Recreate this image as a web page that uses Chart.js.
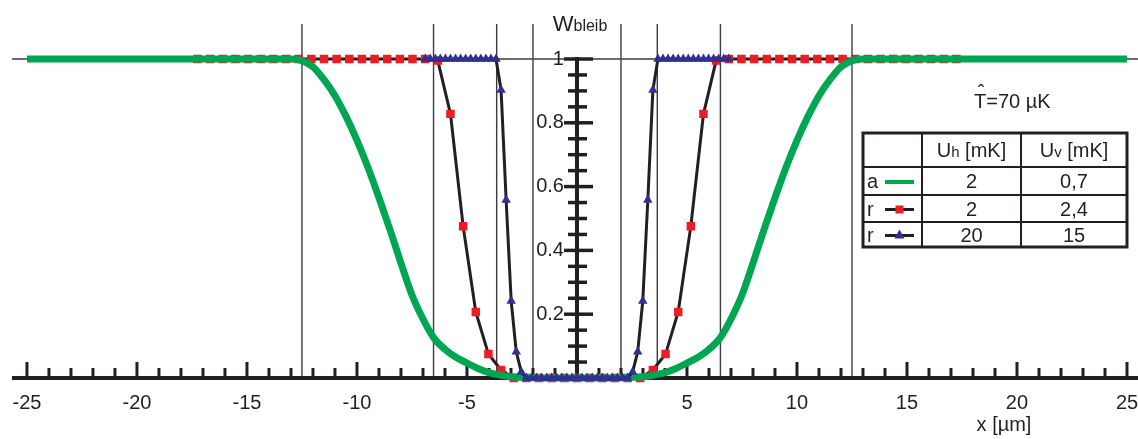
<!DOCTYPE html>
<html lang="de">
<head>
<meta charset="UTF-8">
<title>W bleib</title>
<script src="https://cdn.jsdelivr.net/npm/chart.js"></script>
<style>
  html, body { margin: 0; padding: 0; background: #fff; }
</style>
</head>
<body>
<canvas id="chart" width="1138" height="439"></canvas>
<script>
// ---- data ----
const greenX = [-25, -20, -15, -13, -12.5, -12, -11.5, -11, -10.5, -10, -9.5, -9, -8.5, -8, -7.5, -7, -6.5, -6, -5.5, -5, -4.5, -4, -3.5, -3, -2.5, -2, -1, 0,
                1, 2, 2.5, 3, 3.5, 4, 4.5, 5, 5.5, 6, 6.5, 7, 7.5, 8, 8.5, 9, 9.5, 10, 10.5, 11, 11.5, 12, 12.5, 13, 15, 20, 25];
const greenY = [1, 1, 1, 1, 0.995, 0.975, 0.935, 0.885, 0.82, 0.745, 0.66, 0.565, 0.465, 0.36, 0.26, 0.185, 0.125, 0.09, 0.065, 0.047, 0.03, 0.017, 0.009, 0.004, 0.002, 0.001, 0, 0,
                0, 0.001, 0.002, 0.004, 0.009, 0.017, 0.03, 0.047, 0.065, 0.09, 0.125, 0.185, 0.26, 0.36, 0.465, 0.565, 0.66, 0.745, 0.82, 0.885, 0.935, 0.975, 0.995, 1, 1, 1, 1];

const redX = [-17.25, -16.675, -16.1, -15.525, -14.95, -14.375, -13.8, -13.225, -12.65, -12.075, -11.5, -10.925, -10.35, -9.775, -9.2, -8.625, -8.05, -7.475, -6.9,
              -6.325, -5.75, -5.175, -4.6, -4.025, -3.45, -2.875, -2.3, -1.725, -1.15, -0.575, 0,
              0.575, 1.15, 1.725, 2.3, 2.875, 3.45, 4.025, 4.6, 5.175, 5.75, 6.325,
              6.9, 7.475, 8.05, 8.625, 9.2, 9.775, 10.35, 10.925, 11.5, 12.075, 12.65, 13.225, 13.8, 14.375, 14.95, 15.525, 16.1, 16.675, 17.25];
const redY = [1, 1, 1, 1, 1, 1, 1, 1, 1, 1, 1, 1, 1, 1, 1, 1, 1, 1, 1,
              0.995, 0.828, 0.476, 0.207, 0.075, 0.025, 0, 0, 0, 0, 0, 0,
              0, 0, 0, 0, 0, 0.025, 0.075, 0.207, 0.476, 0.828, 0.995,
              1, 1, 1, 1, 1, 1, 1, 1, 1, 1, 1, 1, 1, 1, 1, 1, 1, 1, 1];

const triX = [-6.9, -6.67, -6.44, -6.21, -5.98, -5.75, -5.52, -5.29, -5.06, -4.83, -4.6, -4.37, -4.14, -3.91, -3.68,
              -3.45, -3.22, -2.99, -2.76, -2.53, -2.3, -2.07, -1.84, -1.61, -1.38, -1.15, -0.92, -0.69, -0.46, -0.23, 0,
              0.23, 0.46, 0.69, 0.92, 1.15, 1.38, 1.61, 1.84, 2.07, 2.3, 2.53, 2.76, 2.99, 3.22, 3.45,
              3.68, 3.91, 4.14, 4.37, 4.6, 4.83, 5.06, 5.29, 5.52, 5.75, 5.98, 6.21, 6.44, 6.67, 6.9];
const triY = [1, 1, 1, 1, 1, 1, 1, 1, 1, 1, 1, 1, 1, 1, 1,
              0.903, 0.558, 0.241, 0.082, 0.019, 0, 0, 0, 0, 0, 0, 0, 0, 0, 0, 0,
              0, 0, 0, 0, 0, 0, 0, 0, 0, 0, 0.019, 0.082, 0.241, 0.558, 0.903,
              1, 1, 1, 1, 1, 1, 1, 1, 1, 1, 1, 1, 1, 1, 1];

const guideX = [-12.5, -6.52, -3.65, -2, 2, 3.65, 6.52, 12.5];
const xTickLabels = [-25, -20, -15, -10, -5, 5, 10, 15, 20, 25];
const yTickLabels = [0.2, 0.4, 0.6, 0.8, 1];

const tableHead = ['', 'U|h| [mK]', 'U|v| [mK]'];
const tableRows = [
  ['a', '2', '0,7'],
  ['r', '2', '2,4'],
  ['r', '20', '15']
];

const GREEN = '#00a651';
const RED = '#ed1c24';
const BLUE = '#2e3192';
const INK = '#231f20';
const FONT = '"Liberation Sans", Arial, Helvetica, sans-serif';

function pts(xs, ys) { return xs.map((v, i) => ({ x: v, y: ys[i] })); }

function seg(ctx, x1, y1, x2, y2) {
  ctx.beginPath(); ctx.moveTo(x1, y1); ctx.lineTo(x2, y2); ctx.stroke();
}

// text with a smaller subscript part written as "U|h| [mK]"
function subText(ctx, str, cx, cy, big, small) {
  const parts = str.split('|');
  const fonts = parts.map((p, i) => (i % 2 ? small : big) + 'px ' + FONT);
  let w = 0;
  parts.forEach((p, i) => { ctx.font = fonts[i]; w += ctx.measureText(p).width; });
  let x = cx - w / 2;
  ctx.textAlign = 'left';
  ctx.textBaseline = 'alphabetic';
  parts.forEach((p, i) => {
    ctx.font = fonts[i];
    ctx.fillText(p, x, cy);
    x += ctx.measureText(p).width;
  });
}

const axesPlugin = {
  id: 'axesPlugin',
  beforeDatasetsDraw(chart) {
    const { ctx, chartArea, scales: { x, y } } = chart;
    const x0 = x.getPixelForValue(0);
    const y0 = y.getPixelForValue(0);
    const y1 = y.getPixelForValue(1);
    const top = y.getPixelForValue(1.11);
    ctx.save();
    ctx.lineCap = 'butt';

    // thin guide lines
    ctx.strokeStyle = '#3c3c3c';
    ctx.lineWidth = 1.4;
    guideX.forEach(v => {
      const px = x.getPixelForValue(v);
      seg(ctx, px, top, px, y0);
    });
    seg(ctx, chartArea.left, y1, chartArea.right, y1);

    // x axis
    ctx.strokeStyle = INK;
    ctx.lineWidth = 4;
    seg(ctx, chartArea.left, y0, chartArea.right, y0);
    ctx.lineWidth = 3;
    for (let v = -25; v <= 25; v++) {
      const px = x.getPixelForValue(v);
      const len = v % 5 === 0 ? 16 : 10;
      seg(ctx, px, y0, px, y0 - len);
    }

    // y axis
    ctx.lineWidth = 4;
    seg(ctx, x0, y1 - 2, x0, y0);
    ctx.lineWidth = 3.5;
    for (let i = 1; i <= 20; i++) {
      const py = y.getPixelForValue(i * 0.05);
      if (i % 4 === 0) seg(ctx, x0 - 13, py, x0 + 16, py);
      else seg(ctx, x0 - 9, py, x0 + 10, py);
    }
    ctx.restore();
  },
  afterDraw(chart) {
    const { ctx, scales: { x, y } } = chart;
    const x0 = x.getPixelForValue(0);
    const y0 = y.getPixelForValue(0);
    ctx.save();
    ctx.fillStyle = INK;
    ctx.font = '20px ' + FONT;

    // tick labels
    ctx.textAlign = 'center';
    ctx.textBaseline = 'middle';
    xTickLabels.forEach(v => ctx.fillText(String(v), x.getPixelForValue(v), y0 + 25));
    ctx.textAlign = 'right';
    yTickLabels.forEach(v => ctx.fillText(String(v), x0 - 13, y.getPixelForValue(v)));

    // axis titles
    ctx.textAlign = 'center';
    ctx.fillText('x [µm]', 1004, 425);
    subText(ctx, 'W|bleib|', 580, 31, 22, 16);

    // temperature note
    ctx.font = '20px ' + FONT;
    ctx.textAlign = 'left';
    ctx.textBaseline = 'alphabetic';
    ctx.fillText('T=70 µK', 974, 108);
    ctx.textAlign = 'center';
    ctx.fillText('ˆ', 981, 99);

    // parameter table
    const L = 863, R = 1127, T = 133, B = 247;
    const colX = [L, 922, 1021, R];
    const rowY = [T, 167, 195, 222, B];
    ctx.strokeStyle = INK;
    ctx.lineWidth = 2;
    colX.slice(1, 3).forEach(cx => seg(ctx, cx, T, cx, B));
    rowY.slice(1, 4).forEach(ry => seg(ctx, L, ry, R, ry));
    ctx.lineWidth = 3;
    ctx.strokeRect(L, T, R - L, B - T);

    const rowMid = i => (rowY[i] + rowY[i + 1]) / 2;
    tableHead.forEach((h, c) => {
      if (h) subText(ctx, h, (colX[c] + colX[c + 1]) / 2, rowMid(0) + 7, 20, 15);
    });
    tableRows.forEach((row, r) => {
      const cy = rowMid(r + 1);
      ctx.font = '20px ' + FONT;
      ctx.fillStyle = INK;
      ctx.textAlign = 'left';
      ctx.textBaseline = 'alphabetic';
      ctx.fillText(row[0], 867, cy + 7);
      ctx.textAlign = 'center';
      ctx.fillText(row[1], (colX[1] + colX[2]) / 2, cy + 7);
      ctx.fillText(row[2], (colX[2] + colX[3]) / 2, cy + 7);
      // legend sample
      const sx1 = 885, sx2 = 914, mx = (sx1 + sx2) / 2;
      if (r === 0) {
        ctx.strokeStyle = GREEN; ctx.lineWidth = 4;
        seg(ctx, sx1, cy + 1, sx2, cy + 1);
      } else {
        ctx.strokeStyle = INK; ctx.lineWidth = 3;
        seg(ctx, sx1, cy + 1, sx2, cy + 1);
        if (r === 1) {
          ctx.fillStyle = RED;
          ctx.fillRect(mx - 4, cy - 3, 8, 8);
        } else {
          ctx.fillStyle = BLUE;
          ctx.beginPath();
          ctx.moveTo(mx, cy - 5); ctx.lineTo(mx + 5, cy + 4); ctx.lineTo(mx - 5, cy + 4);
          ctx.closePath(); ctx.fill();
        }
      }
    });
    ctx.restore();
  }
};

new Chart(document.getElementById('chart'), {
  type: 'line',
  data: {
    datasets: [
      {
        label: 'r (20 / 15)',
        data: pts(triX, triY),
        borderColor: INK,
        borderWidth: 3,
        pointStyle: 'triangle',
        pointRadius: 5.5,
        pointBackgroundColor: BLUE,
        pointBorderColor: BLUE,
        pointBorderWidth: 0,
        order: 1
      },
      {
        label: 'a (2 / 0,7)',
        data: pts(greenX, greenY),
        borderColor: GREEN,
        borderWidth: 7,
        pointRadius: 0,
        cubicInterpolationMode: 'monotone',
        order: 2
      },
      {
        label: 'r (2 / 2,4)',
        data: pts(redX, redY),
        borderColor: INK,
        borderWidth: 3,
        pointStyle: 'rect',
        pointRadius: 6,
        pointBackgroundColor: RED,
        pointBorderColor: RED,
        pointBorderWidth: 0,
        order: 3
      }
    ]
  },
  options: {
    responsive: false,
    animation: false,
    events: [],
    layout: { autoPadding: false, padding: { left: 12, right: 0, top: 11.15, bottom: 29.1 } },
    scales: {
      x: { type: 'linear', min: -25.68, max: 25.5, display: false },
      y: { type: 'linear', min: -0.1, max: 1.15, display: false }
    },
    plugins: {
      legend: { display: false },
      tooltip: { enabled: false }
    }
  },
  plugins: [axesPlugin]
});
</script>
</body>
</html>
